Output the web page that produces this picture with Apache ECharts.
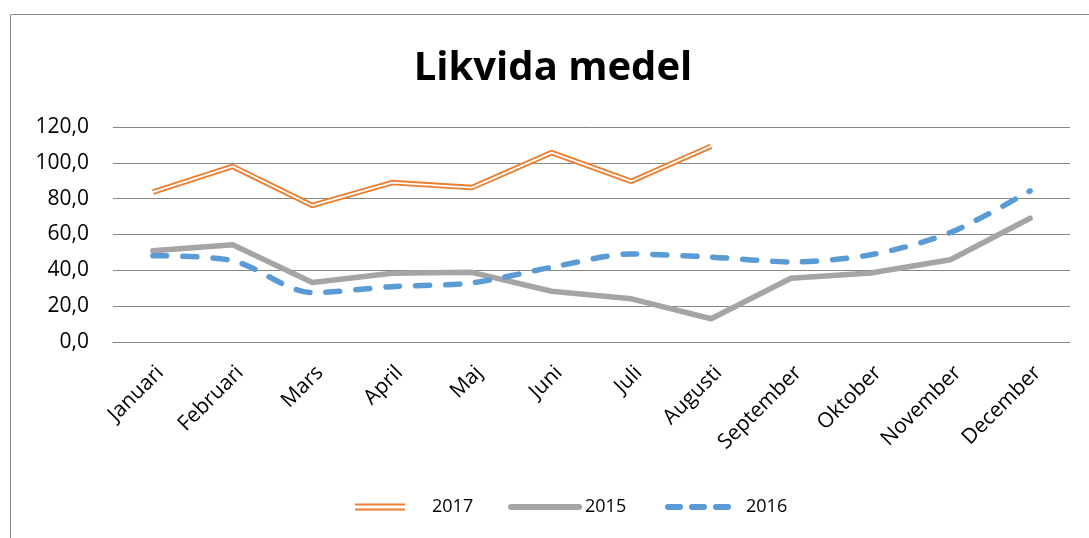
<!DOCTYPE html>
<html><head><meta charset="utf-8">
<script src="https://cdn.jsdelivr.net/npm/echarts@6/dist/echarts.min.js"></script>
<style>html,body{margin:0;padding:0;background:#fff}#c{width:1089px;height:538px}</style>
</head><body><div id="c"></div>
<script>
const categories = ['Januari','Februari','Mars','April','Maj','Juni','Juli','Augusti','September','Oktober','November','December'];
const s2017 = [83.7, 98.0, 76.2, 89.0, 86.2, 105.7, 89.7, 109.3, null, null, null, null];
const s2015 = [50.9, 54.3, 33.2, 38.4, 38.9, 28.3, 24.1, 13.0, 35.6, 38.5, 45.9, 69.1];
const s2016 = [48.2, 45.4, 27.6, 30.9, 33.0, 41.7, 49.1, 47.4, 44.7, 48.7, 61.1, 84.4];
const yTicks = [0, 20, 40, 60, 80, 100, 120];

const FONT = 'Open Sans';
const legendText = { fontFamily: FONT, fontSize: 18, color: '#000' };
const chart = echarts.init(document.getElementById('c'));
chart.setOption({
  animation: false,
  backgroundColor: '#fff',
  title: { text: 'Likvida medel', left: 548, top: 44, textAlign: 'center',
    textStyle: { fontFamily: FONT, fontWeight: 'bold', fontSize: 40, color: '#000' } },
  graphic: [{ type: 'rect', shape: { x: 10.5, y: 14.5, width: 1200, height: 600 },
    style: { fill: 'none', stroke: '#8c8c8c', lineWidth: 1 }, silent: true }],
  legend: [
    { left: 350, top: 493, itemWidth: 50, itemHeight: 7, selectedMode: false,
      textStyle: Object.assign({ padding: [0, 0, 0, 22] }, legendText),
      data: [{ name: '2017', icon: 'path://M0,0H50V2H0Z M0,5H50V7H0Z', itemStyle: { color: '#ED7D31' } }] },
    { left: 503, top: 493, itemWidth: 74, itemHeight: 6, selectedMode: false,
      textStyle: Object.assign({ padding: [0, 0, 0, -2] }, legendText),
      data: [{ name: '2015', icon: 'path://M3,0H71A3,3 0 0 1 71,6H3A3,3 0 0 1 3,0Z', itemStyle: { color: '#A5A5A5' } }] },
    { left: 660, top: 493, itemWidth: 66, itemHeight: 6, selectedMode: false,
      textStyle: Object.assign({ padding: [0, 0, 0, 10] }, legendText),
      data: [{ name: '2016', icon: 'path://M3,0H15A3,3 0 0 1 15,6H3A3,3 0 0 1 3,0Z M27,0H39A3,3 0 0 1 39,6H27A3,3 0 0 1 27,0Z M51,0H63A3,3 0 0 1 63,6H51A3,3 0 0 1 51,0Z', itemStyle: { color: '#5B9BD5' } }] }
  ],
  grid: { left: 113, right: 19, top: 127, bottom: 196, containLabel: false },
  xAxis: {
    type: 'category', data: categories, boundaryGap: true,
    axisLine: { lineStyle: { color: '#868686' } },
    axisTick: { show: false },
    axisLabel: { rotate: 45, interval: 0, fontFamily: FONT, fontSize: 21, color: '#000', margin: 20,
      verticalAlign: 'top' }
  },
  yAxis: {
    type: 'value', min: yTicks[0], max: yTicks[yTicks.length - 1], interval: 20,
    axisLine: { show: false }, axisTick: { show: false },
    splitLine: { lineStyle: { color: '#868686', width: 1 } },
    axisLabel: { fontFamily: FONT, fontSize: 21, color: '#000', margin: 24,
      formatter: v => v.toFixed(1).replace('.', ',') }
  },
  series: [
    { name: '2017', type: 'line', data: s2017, symbol: 'none', z: 3,
      lineStyle: { color: '#ED7D31', width: 5.5 }, itemStyle: { color: '#ED7D31' } },
    { name: '2017w', type: 'line', data: s2017, symbol: 'none', z: 4,
      lineStyle: { color: '#fff', width: 1.8 }, itemStyle: { color: '#fff' } },
    { name: '2015', type: 'line', data: s2015, symbol: 'none', z: 2,
      lineStyle: { color: '#A5A5A5', width: 5.5, cap: 'round', join: 'round' }, itemStyle: { color: '#A5A5A5' } },
    { name: '2016', type: 'line', data: s2016, symbol: 'none', z: 2, smooth: 0.3,
      lineStyle: { color: '#5B9BD5', width: 5.5, type: [14, 16], cap: 'round', join: 'round' }, itemStyle: { color: '#5B9BD5' } }
  ]
});
</script></body></html>
